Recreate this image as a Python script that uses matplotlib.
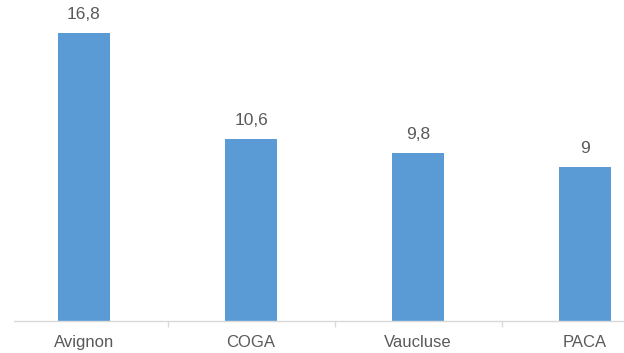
import matplotlib
matplotlib.use("Agg")
import matplotlib.pyplot as plt
from matplotlib.ticker import FixedLocator

categories = ["Avignon", "COGA", "Vaucluse", "PACA"]
values = [16.8, 10.6, 9.8, 9]
value_labels = ["16,8", "10,6", "9,8", "9"]

plt.rcParams['font.family'] = ['Liberation Sans', 'DejaVu Sans']

W, H = 624, 353
fig = plt.figure(figsize=(W / 100, H / 100), dpi=100)
base_px = 321
top_val = 16.8
top_px = 33
ppu = (base_px - top_px) / top_val
ax = fig.add_axes([14 / W, (H - base_px) / H, 1 - 14 / W, base_px / H])
ax.set_ylim(0, base_px / ppu)
x0 = (14 - 84) / 167
x1 = (624 - 84) / 167
ax.set_xlim(x0, x1)

xs = list(range(len(categories)))
bars = ax.bar(xs, values, width=0.31, color="#5b9bd5", zorder=2)
for x, v, lab in zip(xs, values, value_labels):
    ax.annotate(lab, (x, v), xytext=(0, 10), textcoords="offset points",
                ha="center", va="baseline", fontsize=12.5, color="#595959")

for s in ["top", "right", "left"]:
    ax.spines[s].set_visible(False)
ax.spines["bottom"].set_color("#d9d9d9")
ax.spines["bottom"].set_linewidth(1)
ax.set_yticks([])
ax.set_xticks(xs)
ax.set_xticklabels(categories, fontsize=12, color="#595959")
ax.tick_params(axis="x", which="major", length=0, pad=10)
ax.xaxis.set_minor_locator(FixedLocator([0.5, 1.5, 2.5]))
ax.tick_params(axis="x", which="minor", length=4, color="#d9d9d9", width=1)

fig.savefig("out.png", dpi=100)
